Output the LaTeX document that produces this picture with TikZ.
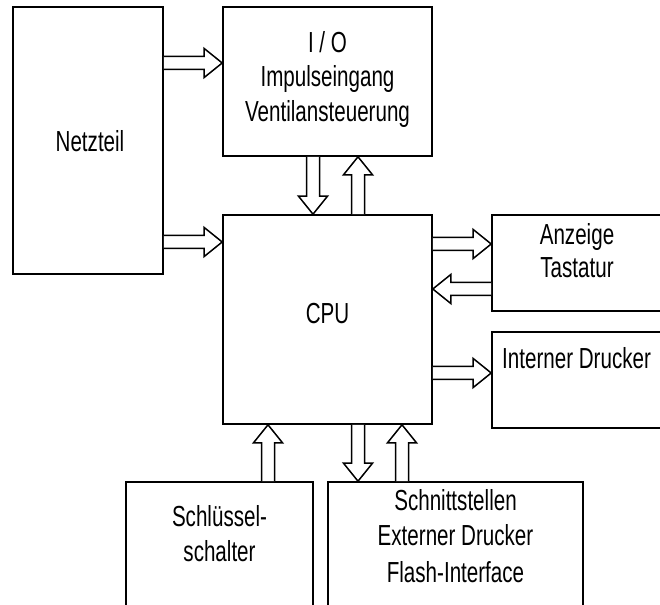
\documentclass[tikz,border=0pt]{standalone}
\usepackage{fontspec}
\setmainfont{Liberation Sans}[FakeStretch=0.71]
\usetikzlibrary{calc}
\tikzset{
  box/.style={draw, line width=1.6pt, rectangle, inner sep=0pt},
  lbl/.style={anchor=base, inner sep=0pt, font=\fontsize{29}{34}\selectfont},
  blk/.style={draw, line width=1.5pt, line join=miter, fill=white}
}
% horizontal block arrow between two points with same y
\newcommand\hblk[2]{\draw[blk] let \p1=#1, \p2=#2, \n1={sign(\x2-\x1)} in
  (\x1,\y1+6.5pt) -- (\x2-18pt*\n1,\y1+6.5pt) -- (\x2-18pt*\n1,\y1+14.5pt) -- (\x2,\y2)
  -- (\x2-18pt*\n1,\y1-14.5pt) -- (\x2-18pt*\n1,\y1-6.5pt) -- (\x1,\y1-6.5pt);}
% vertical block arrow between two points with same x
\newcommand\vblk[2]{\draw[blk] let \p1=#1, \p2=#2, \n1={sign(\y2-\y1)} in
  (\x1+6.5pt,\y1) -- (\x1+6.5pt,\y2-18pt*\n1) -- (\x1+14.5pt,\y2-18pt*\n1) -- (\x2,\y2)
  -- (\x1-14.5pt,\y2-18pt*\n1) -- (\x1-6.5pt,\y2-18pt*\n1) -- (\x1-6.5pt,\y1);}
\begin{document}
\begin{tikzpicture}[x=1pt,y=1pt]
\useasboundingbox (0,0) rectangle (660,604);
\clip (0,0) rectangle (660,604);
\fill[white] (0,0) rectangle (660,604);
% boxes
\node[box, minimum width=150pt, minimum height=267pt] (net) at (88,463.5) {};
\node[box, minimum width=209pt, minimum height=149pt] (io) at (327.5,522.5) {};
\node[box, minimum width=209pt, minimum height=209pt] (cpu) at (327.5,284.5) {};
\node[box, minimum width=228pt, minimum height=96pt] (anz) at (606,341) {};
\node[box, minimum width=228pt, minimum height=96pt] (drk) at (606,224) {};
\node[box, minimum width=187pt, minimum height=168pt] (key) at (219.5,38) {};
\node[box, minimum width=255pt, minimum height=168pt] (sst) at (455.5,38) {};
% labels
\node[lbl] (tnet) at (90,452) {Netzteil};
\node[lbl] (tio1) at (327.5,551) {I / O};
\node[lbl] (tio2) at (327.5,517) {Impulseingang};
\node[lbl] (tio3) at (327.5,482) {Ventilansteuerung};
\node[lbl] (tcpu) at (327.5,280) {CPU};
\node[lbl] (tanz1) at (577,359) {Anzeige};
\node[lbl] (tanz2) at (577,326) {Tastatur};
\node[lbl, anchor=base west] (tdrk) at (502,235) {Interner Drucker};
\node[lbl] (tkey1) at (219.5,77) {Schlüssel-};
\node[lbl] (tkey2) at (219.5,42) {schalter};
\node[lbl] (tsst1) at (455.5,93) {Schnittstellen};
\node[lbl] (tsst2) at (455.5,58) {Externer Drucker};
\node[lbl] (tsst3) at (455.5,22) {Flash-Interface};
% arrows
\hblk{(net.east |- 0,541)}{(io.west |- 0,541)}
\hblk{(net.east |- 0,362)}{(cpu.west |- 0,362)}
\vblk{(io.south -| 313,0)}{(cpu.north -| 313,0)}
\vblk{(cpu.north -| 358,0)}{(io.south -| 358,0)}
\hblk{(cpu.east |- 0,360)}{(anz.west |- 0,360)}
\hblk{(anz.west |- 0,315)}{(cpu.east |- 0,315)}
\hblk{(cpu.east |- 0,231)}{(drk.west |- 0,231)}
\vblk{(key.north -| 268,0)}{(cpu.south -| 268,0)}
\vblk{(cpu.south -| 358,0)}{(sst.north -| 358,0)}
\vblk{(sst.north -| 402,0)}{(cpu.south -| 402,0)}
\end{tikzpicture}
\end{document}
